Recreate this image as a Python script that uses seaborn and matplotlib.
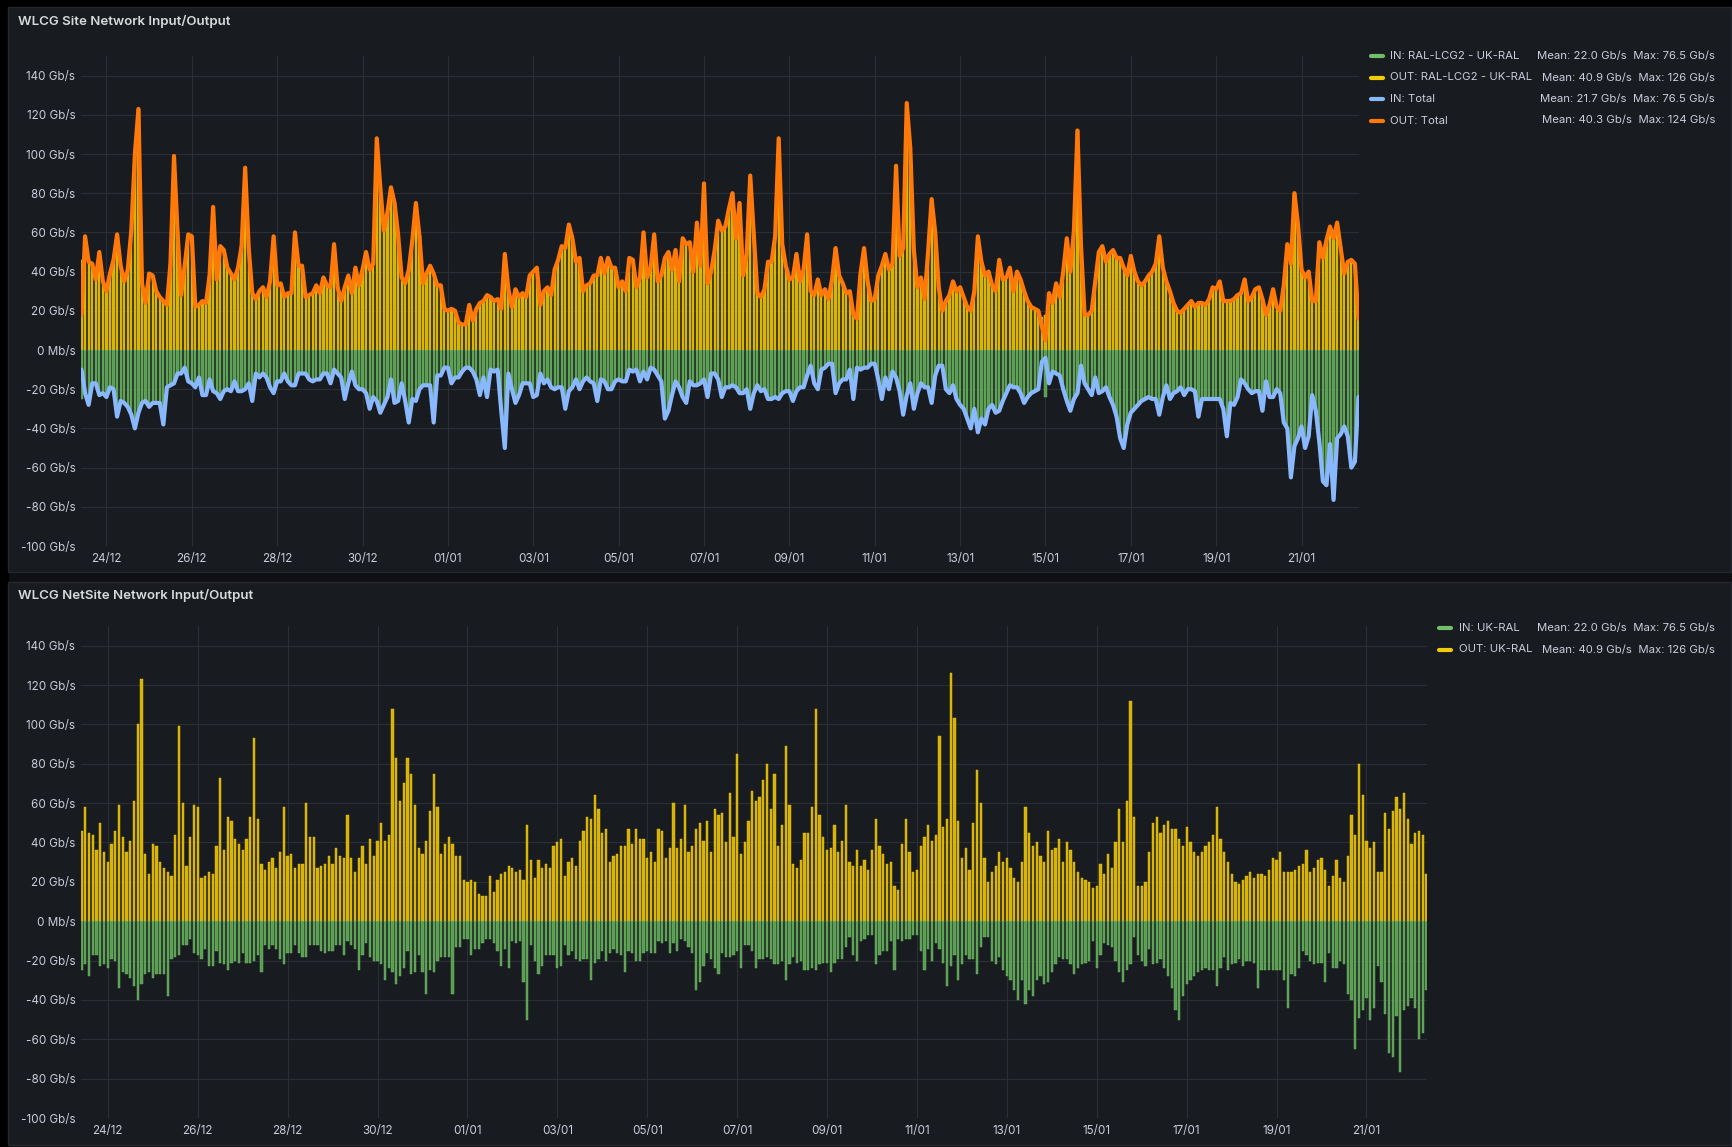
import matplotlib
matplotlib.use("Agg")
import numpy as np
import pandas as pd
import seaborn as sns
import matplotlib.pyplot as plt
import matplotlib.dates as mdates
from matplotlib.lines import Line2D
from matplotlib.patches import Rectangle
from matplotlib.ticker import FuncFormatter, FixedLocator

# 2-hourly samples, 23/12 10:00 -> 22/01 08:00 (Gb/s)
START = "2023-12-23 10:00"
STEP = "2h"

# OUT: RAL-LCG2 - UK-RAL (one row = one day of samples)
out_ral = [
    46, 58, 45, 44, 36, 50, 35, 30, 39, 46, 59, 43,
    35, 41, 61, 100, 123, 34, 24, 39, 38, 30, 27, 25,
    23, 44, 99, 60, 28, 43, 59, 58, 22, 23, 25, 24,
    38, 73, 36, 53, 51, 42, 39, 36, 42, 53, 93, 52,
    29, 26, 30, 32, 27, 35, 58, 33, 34, 27, 29, 29,
    60, 43, 43, 27, 28, 29, 33, 29, 37, 33, 32, 54,
    32, 25, 32, 38, 29, 42, 33, 41, 50, 41, 44, 108,
    83, 61, 70, 83, 75, 59, 37, 34, 41, 56, 75, 58,
    34, 39, 43, 39, 33, 33, 21, 20, 21, 20, 14, 13,
    13, 23, 15, 21, 24, 25, 28, 27, 25, 26, 21, 49,
    31, 22, 31, 27, 29, 27, 38, 40, 42, 23, 30, 32,
    28, 41, 46, 53, 52, 64, 57, 45, 47, 30, 33, 34,
    38, 38, 47, 39, 47, 42, 42, 32, 35, 30, 47, 46,
    32, 37, 60, 37, 42, 59, 35, 38, 47, 50, 41, 51,
    35, 57, 54, 55, 40, 65, 43, 85, 34, 40, 51, 66,
    61, 63, 72, 80, 57, 75, 38, 49, 89, 59, 29, 27,
    31, 45, 45, 58, 108, 54, 43, 36, 37, 49, 35, 41,
    59, 30, 28, 36, 28, 31, 26, 36, 52, 38, 34, 29,
    30, 18, 16, 39, 52, 35, 25, 26, 38, 43, 49, 41,
    44, 94, 48, 52, 126, 103, 51, 32, 37, 26, 50, 77,
    60, 32, 20, 25, 28, 35, 30, 32, 27, 22, 20, 30,
    58, 45, 38, 40, 33, 30, 46, 36, 37, 42, 30, 40,
    36, 30, 25, 22, 21, 20, 17, 18, 29, 24, 34, 27,
    40, 57, 40, 61, 112, 53, 18, 18, 20, 35, 50, 53,
    45, 49, 51, 47, 47, 42, 38, 48, 40, 35, 33, 35,
    38, 40, 44, 58, 42, 35, 30, 24, 20, 19, 21, 23,
    25, 22, 24, 24, 23, 26, 32, 31, 35, 25, 25, 25,
    26, 28, 29, 36, 25, 27, 31, 32, 26, 18, 23, 31,
    22, 20, 33, 54, 44, 80, 64, 41, 37, 40, 25, 25,
    55, 47, 56, 63, 57, 65, 52, 39, 45, 46, 44, 24,
]

# IN: RAL-LCG2 - UK-RAL (drawn below zero)
in_ral = [
    25, 22, 28, 17, 17, 23, 22, 24, 19, 20, 34, 26,
    27, 29, 33, 40, 32, 27, 26, 29, 27, 27, 27, 38,
    19, 18, 17, 12, 12, 9, 16, 17, 19, 14, 23, 23,
    15, 21, 22, 25, 21, 20, 21, 16, 21, 21, 20, 17,
    26, 12, 14, 12, 14, 19, 22, 16, 16, 12, 16, 18,
    18, 12, 12, 12, 15, 16, 15, 15, 12, 12, 17, 10,
    12, 14, 25, 17, 11, 18, 20, 20, 22, 30, 24, 26,
    32, 28, 24, 15, 27, 26, 17, 26, 37, 25, 26, 20,
    18, 18, 18, 37, 13, 13, 9, 9, 17, 14, 14, 11,
    9, 9, 11, 15, 23, 14, 24, 10, 11, 10, 31, 50,
    12, 20, 27, 23, 17, 17, 17, 24, 23, 12, 17, 15,
    19, 20, 19, 19, 30, 21, 19, 15, 20, 16, 14, 16,
    17, 26, 15, 16, 20, 20, 16, 15, 16, 16, 10, 11,
    10, 16, 11, 15, 9, 10, 13, 16, 35, 31, 23, 16,
    19, 24, 27, 16, 18, 18, 17, 15, 24, 12, 12, 15,
    24, 19, 19, 18, 19, 22, 22, 20, 30, 22, 18, 21,
    20, 25, 25, 24, 25, 22, 21, 21, 26, 21, 19, 19,
    13, 8, 17, 20, 10, 9, 7, 7, 22, 17, 15, 15,
    10, 25, 9, 10, 9, 9, 7, 7, 15, 25, 14, 20,
    11, 14, 21, 33, 23, 17, 30, 22, 17, 19, 19, 27,
    13, 8, 8, 20, 22, 18, 25, 28, 30, 35, 40, 30,
    42, 35, 38, 30, 28, 32, 31, 26, 22, 18, 19, 19,
    22, 27, 24, 22, 21, 20, 10, 24, 17, 11, 12, 13,
    20, 26, 31, 25, 22, 8, 17, 20, 23, 14, 22, 21,
    19, 24, 28, 34, 45, 50, 38, 32, 30, 28, 26, 25,
    24, 25, 25, 33, 24, 18, 25, 22, 21, 19, 23, 20,
    20, 21, 34, 25, 25, 25, 25, 25, 25, 30, 44, 27,
    28, 24, 15, 17, 20, 22, 21, 21, 31, 16, 24, 24,
    20, 22, 37, 40, 65, 49, 45, 39, 50, 44, 23, 31,
    47, 67, 69, 48, 76.5, 45, 43, 39, 44, 60, 57, 35,
]

# Total series follow the site series except at these samples
out_total_fix = {0: 18, 270: 12, 271: 5, 359: 16}
in_total_fix = {0: 10, 270: 6, 271: 4, 359: 24}

top_legend = [
    ("IN: RAL-LCG2 - UK-RAL", "Mean: 22.0 Gb/s  Max: 76.5 Gb/s", "#73bf69"),
    ("OUT: RAL-LCG2 - UK-RAL", "Mean: 40.9 Gb/s  Max: 126 Gb/s", "#f2cc0c"),
    ("IN: Total", "Mean: 21.7 Gb/s  Max: 76.5 Gb/s", "#8ab8ff"),
    ("OUT: Total", "Mean: 40.3 Gb/s  Max: 124 Gb/s", "#ff780a"),
]
bottom_legend = [
    ("IN: UK-RAL", "Mean: 22.0 Gb/s  Max: 76.5 Gb/s", "#73bf69"),
    ("OUT: UK-RAL", "Mean: 40.9 Gb/s  Max: 126 Gb/s", "#f2cc0c"),
]
date_ticks = pd.date_range("2023-12-24", "2024-01-21", freq="2D")

W, H = 1732, 1147
BG = "#0f1014"
PANEL = "#181b1f"
GRID = "#2b2e34"
TEXT = "#ccccdc"
YEL_FILL, YEL_EDGE = "#d6b106", "#f2cc0c"
GRN_FILL, GRN_EDGE = "#5b9c53", "#73bf69"

times = pd.date_range(START, periods=len(out_ral), freq=STEP)
xnum = mdates.date2num(times.to_pydatetime())
out_total = list(out_ral)
for k, v in out_total_fix.items():
    out_total[k] = v
in_total = list(in_ral)
for k, v in in_total_fix.items():
    in_total[k] = v
df = pd.DataFrame({
    "t": xnum,
    "out": out_ral,
    "in_neg": [-v for v in in_ral],
    "out_total": out_total,
    "in_total_neg": [-v for v in in_total],
})

sns.set_theme(style="dark")
plt.rcParams["font.family"] = ["Inter", "DejaVu Sans"]

fig = plt.figure(figsize=(W / 100, H / 100), dpi=100, facecolor=BG)


def px_box(x0, y0, x1, y1):
    return [x0 / W, 1 - y1 / H, (x1 - x0) / W, (y1 - y0) / H]


# black screenshot frame + the two grafana panels (behind the axes)
fig.patches.append(Rectangle((0, 0), 8 / W, 1, transform=fig.transFigure, color="#000000", zorder=-5))
fig.patches.append(Rectangle((0, 1 - 7 / H), 1, 7 / H, transform=fig.transFigure, color="#000000", zorder=-5))
for y0, y1 in [(7, 572), (582, 1145)]:
    b = px_box(8, y0, 1731, y1)
    fig.patches.append(Rectangle((b[0], b[1]), b[2], b[3], transform=fig.transFigure,
                                 facecolor=PANEL, edgecolor="#24272d", lw=1, zorder=-4))


def yfmt(v, _):
    return "0 Mb/s" if v == 0 else f"{int(v)} Gb/s"


def style_axes(ax):
    ax.set_facecolor(PANEL)
    for s in ax.spines.values():
        s.set_visible(False)
    ax.set_ylim(-100, 150)
    ax.yaxis.set_major_locator(FixedLocator(np.arange(-100, 141, 20)))
    ax.yaxis.set_major_formatter(FuncFormatter(yfmt))
    ax.xaxis.set_major_locator(FixedLocator(mdates.date2num(date_ticks.to_pydatetime())))
    ax.xaxis.set_major_formatter(mdates.DateFormatter("%d/%m"))
    ax.set_xlim(xnum[0] - 0.3 / 24, xnum[-1] + 0.3 / 24)
    ax.grid(True, color=GRID, lw=0.8)
    ax.set_axisbelow(True)
    ax.tick_params(axis="both", length=0, labelsize=8.4, colors=TEXT)
    ax.tick_params(axis="y", pad=4)
    ax.tick_params(axis="x", pad=5)
    ax.set_xlabel("")
    ax.set_ylabel("")


def draw_bars(ax, width):
    sns.barplot(data=df, x="t", y="out", native_scale=True, width=width, color=YEL_FILL,
                saturation=1, edgecolor=YEL_EDGE, linewidth=0.3, errorbar=None, ax=ax)
    sns.barplot(data=df, x="t", y="in_neg", native_scale=True, width=width, color=GRN_FILL,
                saturation=1, edgecolor=GRN_EDGE, linewidth=0.3, errorbar=None, ax=ax)


# top panel: site bars + total lines
ax1 = fig.add_axes(px_box(81, 56, 1359, 546))
draw_bars(ax1, 0.62)
sns.lineplot(data=df, x="t", y="out_total", color="#ff780a", lw=3.0, estimator=None,
             solid_joinstyle="round", ax=ax1, zorder=5)
sns.lineplot(data=df, x="t", y="in_total_neg", color="#8ab8ff", lw=3.0, estimator=None,
             solid_joinstyle="round", ax=ax1, zorder=5)
style_axes(ax1)

# bottom panel: netsite bars
ax2 = fig.add_axes(px_box(81, 626, 1427, 1118))
draw_bars(ax2, 0.6)
style_axes(ax2)

fig.text(18 / W, 1 - 22 / H, "WLCG Site Network Input/Output", fontsize=9.6, fontweight="semibold",
         color="#d8d9da", va="center", ha="left")
fig.text(18 / W, 1 - 596 / H, "WLCG NetSite Network Input/Output", fontsize=9.6, fontweight="semibold",
         color="#d8d9da", va="center", ha="left")


def draw_legend(entries, y0, dash_x, name_x, right_x, dy=21.5):
    for n, (name, stats, col) in enumerate(entries):
        y = 1 - (y0 + n * dy) / H
        fig.add_artist(Line2D([dash_x / W, (dash_x + 12) / W], [y, y], transform=fig.transFigure,
                              color=col, lw=3, solid_capstyle="round"))
        fig.text(name_x / W, y, name, fontsize=8.2, color=TEXT, va="center", ha="left")
        fig.text(right_x / W, y, stats, fontsize=8.2, color=TEXT, va="center", ha="right")


draw_legend(top_legend, 56, 1371, 1390, 1715)
draw_legend(bottom_legend, 628, 1439, 1459, 1715)

fig.savefig("out.png", dpi=100, facecolor=BG)
